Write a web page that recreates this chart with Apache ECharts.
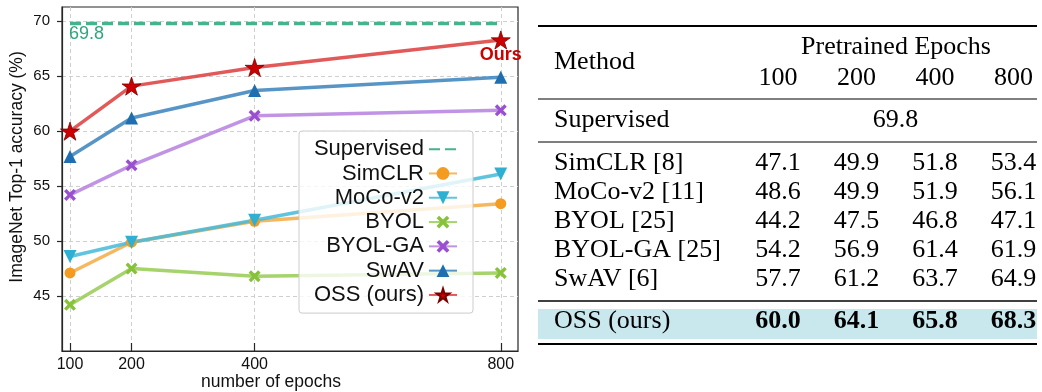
<!DOCTYPE html>
<html><head><meta charset="utf-8">
<script src="https://cdn.jsdelivr.net/npm/echarts@6/dist/echarts.min.js"></script>
<style>html,body{margin:0;padding:0;background:#fff}#c{width:1042px;height:392px}</style>
</head><body><div id="c"></div>
<script>
// ---------- data ----------
const epochs = [100, 200, 400, 800];
const supervised = 69.8;
const simclr = [47.1, 49.9, 51.8, 53.4];
const mocov2 = [48.6, 49.9, 51.9, 56.1];
const byol = [44.2, 47.5, 46.8, 47.1];
const byolga = [54.2, 56.9, 61.4, 61.9];
const swav = [57.7, 61.2, 63.7, 64.9];
const oss = [60.0, 64.1, 65.8, 68.3];
const yTicks = [45, 50, 55, 60, 65, 70];
const legendNames = ['Supervised', 'SimCLR', 'MoCo-v2', 'BYOL', 'BYOL-GA', 'SwAV', 'OSS (ours)'];
const tableHeader = 'Pretrained Epochs';
const tableMethods = ['SimCLR [8]', 'MoCo-v2 [11]', 'BYOL [25]', 'BYOL-GA [25]', 'SwAV [6]'];
const tableSeries = [simclr, mocov2, byol, byolga, swav];
const oursName = 'OSS (ours)';

// ---------- symbols ----------
const X_PATH = 'path://M0,2L2,0L5,3L8,0L10,2L7,5L10,8L8,10L5,7L2,10L0,8L3,5Z';
const STAR_PATH = 'path://M50 0L61.17 34.63L97.55 34.55L68.07 55.87L79.39 90.45L50 69L20.61 90.45L31.93 55.87L2.45 34.55L38.83 34.63Z';

const SANS = '"Liberation Sans", Arial, sans-serif';
const SERIF = '"Liberation Serif", "Times New Roman", serif';

function pts(vals) { return epochs.map((e, i) => [e, vals[i]]); }

function mk(name, vals, mColor, lColor, symbol, size, extra) {
  return Object.assign({
    name, type: 'line', data: pts(vals),
    symbol, symbolSize: size, symbolKeepAspect: true,
    showSymbol: true,
    itemStyle: { color: mColor, opacity: 1 },
    lineStyle: { color: lColor, width: 3.5, opacity: 0.85 },
    emphasis: { disabled: true },
    animation: false, clip: false
  }, extra || {});
}

const supData = epochs.map((e, i) => i === 0 ? {
  value: [e, supervised],
  label: { show: true, formatter: String(supervised), position: 'bottom', distance: 1.5, align: 'left',
           offset: [-1, 0], color: '#2ea67c', fontFamily: SANS, fontSize: 18 }
} : [e, supervised]);

const ossData = pts(oss).map((p, i) => i === oss.length - 1 ? {
  value: p,
  label: { show: true, formatter: 'Ours', position: 'bottom', distance: -3, color: '#cc0000',
           fontFamily: SANS, fontSize: 18, fontWeight: 'bold' }
} : p);

const series = [
  { name: 'Supervised', type: 'line', data: supData, symbol: 'circle', symbolSize: 1,
    itemStyle: { color: 'rgba(0,0,0,0)' },
    lineStyle: { color: '#45b38f', width: 3.5, type: [11, 5] },
    emphasis: { disabled: true }, animation: false, z: 3 },
  mk('SimCLR', simclr, '#f39c1f', '#f5aa45', 'circle', 11),
  mk('MoCo-v2', mocov2, '#2fb0d2', '#45bad8', 'triangle', 13, { symbolRotate: 180 }),
  mk('BYOL', byol, '#86c23a', '#96cb52', X_PATH, 12),
  mk('BYOL-GA', byolga, '#9a4fd0', '#b680e0', X_PATH, 12),
  mk('SwAV', swav, '#1f6fb0', '#3a82bd', 'triangle', 13),
  Object.assign(mk('OSS (ours)', oss, '#cc0000', '#dc3c3c', STAR_PATH, 19), {
    data: ossData,
    itemStyle: { color: '#cc0000', borderColor: '#7a0000', borderWidth: 0.8, opacity: 1 }
  })
];

// ---------- table graphics ----------
const colX = [778, 856.5, 935, 1013.5];
const rowY = [163.5, 192, 221, 250, 279];
const T0 = 538, T1 = 1037;
const graphics = [];
function txt(text, x, y, size, align, font, weight, color, rot) {
  graphics.push({
    type: 'text', x, y, rotation: rot || 0, silent: true, z: 10,
    style: {
      text, fill: color || '#000', textFill: color || '#000',
      font: (weight ? weight + ' ' : '') + size + 'px ' + font,
      align, textAlign: align, verticalAlign: 'middle', textVerticalAlign: 'middle'
    }
  });
}
function rule(y, w) {
  graphics.push({ type: 'line', silent: true, z: 5,
    shape: { x1: T0, y1: y, x2: T1, y2: y }, style: { stroke: '#000', lineWidth: w } });
}
graphics.push({ type: 'rect', silent: true, z: 1,
  shape: { x: T0, y: 309, width: T1 - T0, height: 30 }, style: { fill: '#c8e8ee' } });
rule(26, 1.8); rule(99, 1.1); rule(142, 1.1); rule(301, 1.4); rule(344, 1.8);
txt('Method', 554, 62, 26, 'left', SERIF);
txt(tableHeader, 896, 47.5, 26, 'center', SERIF);
epochs.forEach((e, i) => txt(String(e), colX[i], 78, 26, 'center', SERIF));
txt('Supervised', 554, 120, 26, 'left', SERIF);
txt(supervised.toFixed(1), 895.5, 120, 26, 'center', SERIF);
tableMethods.forEach((m, r) => {
  txt(m, 554, rowY[r], 26, 'left', SERIF);
  tableSeries[r].forEach((v, i) => txt(v.toFixed(1), colX[i], rowY[r], 26, 'center', SERIF));
});
txt(oursName, 554, 321, 26, 'left', SERIF);
oss.forEach((v, i) => txt(v.toFixed(1), colX[i], 321, 26, 'center', SERIF, 'bold'));

// axis names
txt('ImageNet Top-1 accuracy (%)', 17.5, 167, 17.5, 'center', SANS, null, '#111', Math.PI / 2);
txt('number of epochs', 271, 382, 17.5, 'center', SANS, null, '#111');

const axisColor = '#262626';
const option = {
  animation: false,
  backgroundColor: '#fff',
  grid: { left: 62, right: 524, top: 7, bottom: 41, show: true, borderColor: axisColor, borderWidth: 1.2,
          backgroundColor: 'transparent', containLabel: false },
  xAxis: {
    type: 'value', min: 87, max: 828,
    axisLine: { show: true, onZero: false, lineStyle: { color: axisColor, width: 1.2 } },
    axisTick: { show: true, inside: true, length: 8, customValues: epochs, lineStyle: { color: axisColor, width: 1.2 } },
    axisLabel: { show: true, customValues: epochs, margin: 6, fontFamily: SANS, fontSize: 16, color: '#111',
                 textStyle: { fontSize: 16 } },
    splitLine: { show: true, lineStyle: { type: [4, 3], color: '#cfcfcf', width: 1 } }
  },
  yAxis: {
    type: 'value', min: 40, max: 71.3, interval: 5,
    axisLine: { show: true, onZero: false, lineStyle: { color: axisColor, width: 1.2 } },
    axisTick: { show: true, inside: false, length: 5, customValues: yTicks, lineStyle: { color: axisColor, width: 1.2 } },
    axisLabel: { customValues: yTicks, margin: 12, fontFamily: SANS, fontSize: 15, color: '#111' },
    splitLine: { show: true, lineStyle: { type: [4, 3], color: '#cfcfcf', width: 1 } }
  },
  legend: {
    data: legendNames, orient: 'vertical', left: 299, top: 131, align: 'right',
    itemWidth: 28, itemHeight: 16, itemGap: 0, padding: [6, 15, 6, 13],
    backgroundColor: 'rgba(255,255,255,0.8)', borderColor: '#cccccc', borderWidth: 1, borderRadius: 3,
    selectedMode: false, z: 20,
    textStyle: { fontFamily: SANS, fontSize: 22, color: '#111', width: 112, lineHeight: 24.3, align: 'right' }
  },
  series,
  graphic: graphics
};
const chart = echarts.init(document.getElementById('c'), null, { renderer: 'canvas' });
chart.setOption(option);
</script></body></html>
